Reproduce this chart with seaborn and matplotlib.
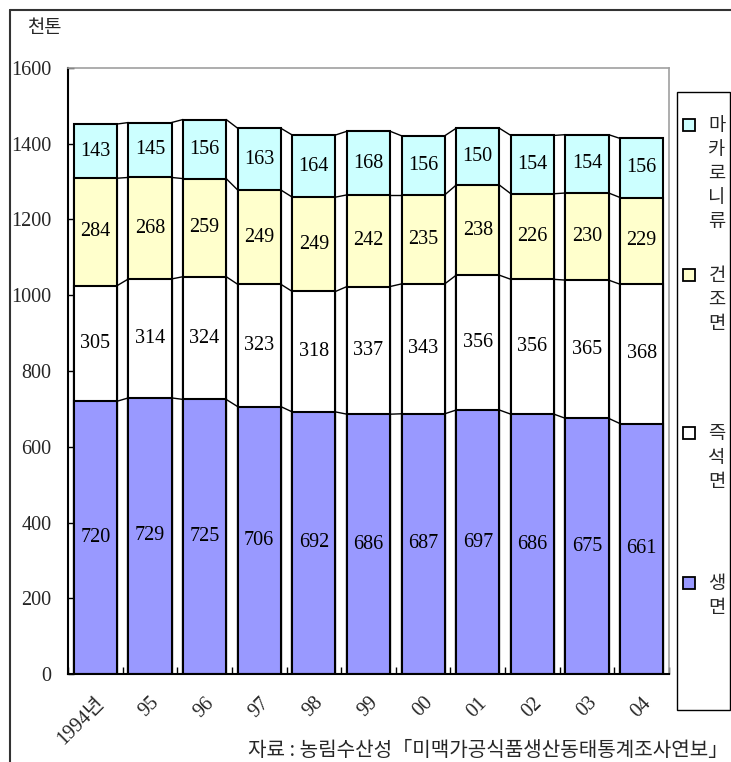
import matplotlib
matplotlib.use("Agg")
import matplotlib.pyplot as plt
import matplotlib.transforms as mtransforms
import seaborn as sns
import numpy as np
import pandas as pd
from matplotlib.patches import Rectangle
from matplotlib.lines import Line2D

# ---- data ----
years = ["1994년", "95", "96", "97", "98", "99", "00", "01", "02", "03", "04"]
saengmyeon = [720, 729, 725, 706, 692, 686, 687, 697, 686, 675, 661]      # 생면
jeukseok = [305, 314, 324, 323, 318, 337, 343, 356, 356, 365, 368]        # 즉석면
geonjo = [284, 268, 259, 249, 249, 242, 235, 238, 226, 230, 229]          # 건조면
macaroni = [143, 145, 156, 163, 164, 168, 156, 150, 154, 154, 156]        # 마카로니류

series_names = ["생면", "즉석면", "건조면", "마카로니류"]
series_vals = [saengmyeon, jeukseok, geonjo, macaroni]
colors = ["#9999FF", "#FFFFFF", "#FFFFCC", "#CCFFFF"]

sns.set_theme(style="white")
plt.rcParams["font.family"] = ["Liberation Serif", "Noto Sans CJK KR"]

W, H = 731, 762
fig = plt.figure(figsize=(W / 100, H / 100), dpi=100)
ax = fig.add_axes([68 / W, 1 - 674 / H, (669 - 68) / W, (674 - 68) / H])

vals = np.array(series_vals, dtype=float)
cum = np.cumsum(vals, axis=0)
bar_w = 0.79

df = pd.DataFrame({"year": years})
# draw cumulative totals from top layer downwards so lower layers overlay
for k in range(3, -1, -1):
    df["v"] = cum[k]
    sns.barplot(data=df, x="year", y="v", color=colors[k], saturation=1,
                width=bar_w, edgecolor="black", linewidth=1.5, ax=ax, zorder=2)

# connecting lines between bar tops
x = np.arange(len(years))
for k in range(4):
    for i in range(len(years) - 1):
        ax.plot([x[i] + bar_w / 2, x[i + 1] - bar_w / 2], [cum[k][i], cum[k][i + 1]],
                color="black", lw=1, zorder=1)

# value labels
for k in range(4):
    base = cum[k] - vals[k]
    for i in range(len(years)):
        ax.text(x[i], base[i] + vals[k][i] / 2, f"{int(vals[k][i])}",
                ha="center", va="center", fontsize=14.5,
                family="Liberation Serif", color="black", zorder=3)

ax.set_xlim(-0.5, len(years) - 0.5)
ax.set_ylim(0, 1600)
ax.set_yticks(range(0, 1601, 200))
ax.set_yticklabels([str(v) for v in range(0, 1601, 200)], fontsize=14.5,
                   family="Liberation Serif")
ax.set_xticks(x)
ax.set_xticklabels(years, rotation=45, ha="right", va="top",
                   rotation_mode="anchor", fontsize=14.5,
                   family=["Liberation Serif", "Noto Sans CJK KR"])
offset = mtransforms.ScaledTranslation(-7 / 100, 0, fig.dpi_scale_trans)
for lbl in ax.get_xticklabels():
    lbl.set_transform(lbl.get_transform() + offset)
ax.set_xticks(np.arange(len(years) + 1) - 0.5, minor=True)
ax.tick_params(axis="x", which="major", length=0, pad=14)
ax.tick_params(axis="x", which="minor", direction="in", length=5, width=1,
               color="black", bottom=True)
ax.tick_params(axis="y", direction="in", length=4, width=1, color="black",
               left=True, pad=12)
ax.set_xlabel("")
ax.set_ylabel("")
for s in ["left", "bottom"]:
    ax.spines[s].set_color("black")
    ax.spines[s].set_linewidth(1.5)
for s in ["top", "right"]:
    ax.spines[s].set_color("#A0A0A0")
    ax.spines[s].set_linewidth(1.2)
ax.grid(False)

# unit label
fig.text(27 / W, 1 - 27 / H, "천톤", fontsize=13.5, family="Noto Sans CJK KR",
         ha="left", va="center")

# outer frame (left & top)
fig.add_artist(Line2D([10 / W, 10 / W], [0, 1 - 10 / H], color="#333333", lw=1.5,
                      transform=fig.transFigure))
fig.add_artist(Line2D([10 / W, 1], [1 - 10 / H, 1 - 10 / H], color="#333333", lw=1.5,
                      transform=fig.transFigure))

# legend box
fig.add_artist(Rectangle((677 / W, 1 - 710 / H), (730 - 677) / W, (710 - 92) / H,
                         transform=fig.transFigure, facecolor="white",
                         edgecolor="black", lw=1))
legend_order = [3, 2, 1, 0]
legend_y = [125, 275, 433, 583]
for k, yy in zip(legend_order, legend_y):
    fig.add_artist(Rectangle((683 / W, 1 - (yy + 6) / H), 12 / W, 12 / H,
                             transform=fig.transFigure, facecolor=colors[k],
                             edgecolor="black", lw=1.3))
    name = series_names[k]
    for j, ch in enumerate(name):
        fig.text(717 / W, 1 - (yy + j * 24) / H, ch, fontsize=13.5,
                 family="Noto Sans CJK KR", ha="center", va="center")

# source
fig.text(728 / W, 1 - 750 / H, "자료 : 농림수산성「미맥가공식품생산동태통계조사연보」",
         fontsize=14.5, family="Noto Sans CJK KR", ha="right", va="center")

fig.savefig("out.png", dpi=100)
